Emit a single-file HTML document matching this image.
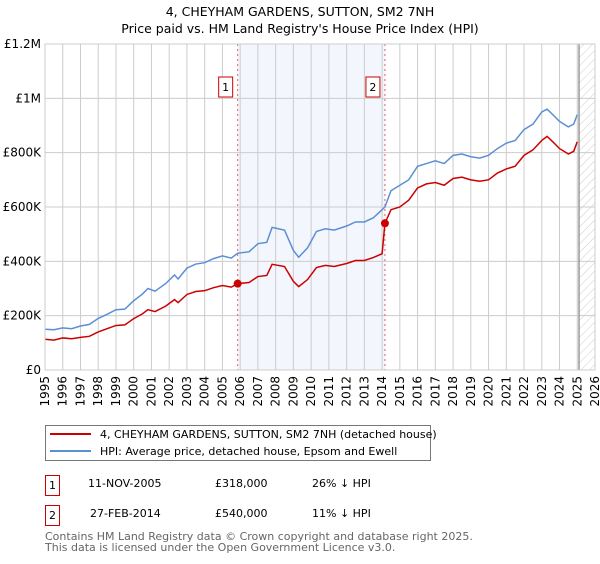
<!DOCTYPE html>
<html><head><meta charset="utf-8"><style>
body{margin:0;background:#fff;font-family:"DejaVu Sans","Liberation Sans",sans-serif;}
svg text{font-family:"DejaVu Sans","Liberation Sans",sans-serif;}
</style></head><body>
<svg id="chart" width="600" height="560" xmlns="http://www.w3.org/2000/svg">
<defs><pattern id="hatch" width="6" height="6" patternUnits="userSpaceOnUse" patternTransform="rotate(45)"><line x1="0" y1="0" x2="0" y2="6" stroke="#ccc" stroke-width="1"/></pattern></defs>
<text x="300" y="16" text-anchor="middle" font-size="12.5">4, CHEYHAM GARDENS, SUTTON, SM2 7NH</text>
<text x="300" y="33" text-anchor="middle" font-size="12.5">Price paid vs. HM Land Registry's House Price Index (HPI)</text>
<g id="plot"></g>
<rect x="45.5" y="425.5" width="385" height="35" fill="#fff" stroke="#777"/>
<line x1="50" y1="434" x2="91" y2="434" stroke="#cc0000" stroke-width="2"/>
<text x="100" y="438" font-size="11">4, CHEYHAM GARDENS, SUTTON, SM2 7NH (detached house)</text>
<line x1="50" y1="451" x2="91" y2="451" stroke="#5b8fd4" stroke-width="2"/>
<text x="100" y="455" font-size="11">HPI: Average price, detached house, Epsom and Ewell</text>
<g font-size="11">
<rect x="45.5" y="475.5" width="14" height="20" fill="#fff" stroke="#cc0000"/>
<text x="52.5" y="489" text-anchor="middle">1</text>
<text x="88" y="487">11-NOV-2005</text><text x="215" y="487">£318,000</text><text x="312" y="487">26% ↓ HPI</text></g>
<g font-size="11">
<rect x="45.5" y="505.5" width="14" height="20" fill="#fff" stroke="#cc0000"/>
<text x="52.5" y="519" text-anchor="middle">2</text>
<text x="90" y="517">27-FEB-2014</text><text x="215" y="517">£540,000</text><text x="312" y="517">11% ↓ HPI</text></g>
<text x="45" y="540" font-size="11" fill="#666">Contains HM Land Registry data © Crown copyright and database right 2025.</text>
<text x="45" y="551" font-size="11" fill="#666">This data is licensed under the Open Government Licence v3.0.</text>
</svg>
<script>
const hpiDates=[1995,1995.5,1996,1996.5,1997,1997.5,1998,1998.5,1999,1999.5,2000,2000.5,2000.8,2001.2,2001.8,2002.3,2002.5,2003,2003.5,2004,2004.5,2005,2005.5,2005.86,2006.5,2007,2007.5,2007.8,2008.5,2009,2009.3,2009.8,2010.3,2010.8,2011.3,2012,2012.5,2013,2013.5,2014,2014.16,2014.5,2015,2015.5,2016,2016.5,2017,2017.5,2018,2018.5,2019,2019.5,2020,2020.5,2021,2021.5,2022,2022.5,2023,2023.3,2023.7,2024,2024.5,2024.8,2025];
const hpiValues=[150,148,155,152,162,168,190,205,222,224,255,280,300,290,318,350,335,375,390,395,410,420,412,430,435,465,470,525,515,440,415,450,510,520,515,530,545,545,560,590,600,660,680,700,750,760,770,760,790,795,785,780,790,815,835,845,885,905,950,960,935,915,895,905,940];
const priceDates=hpiDates;
const priceValues=[113,110,118,115,120,124,140,152,164,166,189,207,222,215,235,259,248,278,289,292,303,311,305,318,322,344,348,389,381,326,307,333,377,385,381,392,403,403,414,428,540,590,600,625,670,685,690,680,705,710,700,695,700,725,740,750,790,810,845,860,835,815,795,805,840];
const sales=[{d:2005.86,v:318,label:"1"},{d:2014.16,v:540,label:"2"}];
const yTicks=[0,200,400,600,800,1000,1200];
const yTickLabels=["£0","£200K","£400K","£600K","£800K","£1M","£1.2M"];
const xTicks=[1995,1996,1997,1998,1999,2000,2001,2002,2003,2004,2005,2006,2007,2008,2009,2010,2011,2012,2013,2014,2015,2016,2017,2018,2019,2020,2021,2022,2023,2024,2025,2026];
const X0=45,X1=595,Y0=370,Y1=44,D0=1995,D1=2026,V1=1200,hatchStart=2025.1;
const xs=d=>X0+(d-D0)/(D1-D0)*(X1-X0);
const ys=v=>Y0-v/V1*(Y0-Y1);
const NS="http://www.w3.org/2000/svg";
const g=document.getElementById('plot');
function mk(t,a){const e=document.createElementNS(NS,t);for(const k in a)e.setAttribute(k,a[k]);g.appendChild(e);return e;}
let e=mk('rect',{x:xs(sales[0].d),y:Y1,width:xs(sales[1].d)-xs(sales[0].d),height:Y0-Y1,fill:'#f3f6fd'});


e=mk('rect',{x:xs(hatchStart),y:Y1,width:X1-xs(hatchStart),height:Y0-Y1,fill:'url(#hatch)'});


xTicks.forEach(t=>{const l=mk('line',{x1:xs(t),x2:xs(t),y1:Y1,y2:Y0,stroke:'#ccc'});


const tx=mk('text',{x:0,y:0,'font-size':12,'text-anchor':'end',transform:`translate(${xs(t)+4},${Y0+6}) rotate(-90)`});tx.textContent=t;

});
yTicks.forEach((t,i)=>{const l=mk('line',{x1:X0,x2:X1,y1:ys(t),y2:ys(t),stroke:'#ccc'});


const tx=mk('text',{x:X0-4,y:ys(t)+4,'font-size':12,'text-anchor':'end'});tx.textContent=yTickLabels[i];

});
e=mk('line',{x1:xs(hatchStart),x2:xs(hatchStart),y1:Y1,y2:Y0,stroke:'#999','stroke-width':1.5});


sales.forEach(s=>{const l=mk('line',{x1:xs(s.d),x2:xs(s.d),y1:Y1,y2:Y0,stroke:'#e06060','stroke-dasharray':'2,3'});


const r=mk('rect',{x:xs(s.d)-19,y:77,width:14,height:20,fill:'#fff',stroke:'#cc0000'});


const t=mk('text',{x:xs(s.d)-12,y:91,'font-size':11,'text-anchor':'middle'});t.textContent=s.label;

});
e=mk('polyline',{points:hpiDates.map((d,i)=>xs(d)+','+ys(hpiValues[i])).join(' '),fill:'none',stroke:'#5b8fd4','stroke-width':1.5});


e=mk('polyline',{points:priceDates.map((d,i)=>xs(d)+','+ys(priceValues[i])).join(' '),fill:'none',stroke:'#cc0000','stroke-width':1.5});


sales.forEach(s=>{const c=mk('circle',{cx:xs(s.d),cy:ys(s.v),r:4,fill:'#cc0000'});

});
e=mk('rect',{x:X0,y:Y1,width:X1-X0,height:Y0-Y1,fill:'none',stroke:'#ccc'});


</script>
</body></html>
